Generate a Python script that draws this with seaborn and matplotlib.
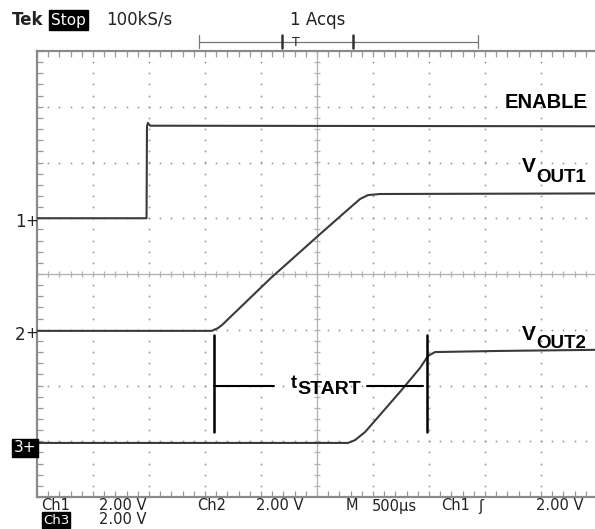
import numpy as np
import pandas as pd
import matplotlib.pyplot as plt
from matplotlib.lines import Line2D
import seaborn as sns

# ---- data (time in us, voltage in V) ----
enable_t = [0, 978, 982, 990, 1010, 5000]
enable_v = [0.0, 0.0, 3.30, 3.42, 3.32, 3.30]

vout1_t = [0, 1560, 1616, 1652, 2089, 2527, 2750, 2884, 2955, 3063, 5000]
vout1_v = [0.0, 0.0, 0.10, 0.21, 1.90, 3.47, 4.26, 4.73, 4.87, 4.91, 4.93]

vout2_t = [0, 2777, 2839, 2929, 3241, 3420, 3491, 3554, 4134, 5000]
vout2_v = [0.0, 0.0, 0.10, 0.39, 1.83, 2.69, 3.12, 3.26, 3.30, 3.34]

channels = ["Ch1", "Ch2", "Ch3"]
ch_position = [1.0, -1.02, -3.03]      # ground marker, in divisions
volts_per_div = [2.0, 2.0, 2.0]
time_per_div = 500                      # us/div

tstart_begin = 1580
tstart_end = 3480

frames = []
for ch, t, v, pos, vdiv in zip(channels, [enable_t, vout1_t, vout2_t],
                               [enable_v, vout1_v, vout2_v], ch_position, volts_per_div):
    frames.append(pd.DataFrame({"time_us": t, "div": np.array(v) / vdiv + pos, "channel": ch}))
df = pd.concat(frames, ignore_index=True)

sns.set_theme(style="white")
plt.rcParams["font.family"] = ["DejaVu Sans"]

W, H = 595, 529
fig = plt.figure(figsize=(W / 100, H / 100), dpi=100)
ax = fig.add_axes([37 / W, 1 - 497 / H, 560 / W, 446 / H])


def fx(x):
    return x / W


def fy(y):
    return 1 - y / H


grid_col = "#9a9a9a"
trace_col = "#3a3a3a"
txt_col = "#222222"

# graticule dots
for k in range(1, 10):
    if k == 5:
        continue
    ys = np.arange(-4, 4.01, 0.2)
    ax.scatter(np.full(len(ys), k * time_per_div), ys, s=1.8, color=grid_col, lw=0, zorder=1)
for k in range(-3, 4):
    if k == 0:
        continue
    xs = np.arange(0, 5001, time_per_div / 5)
    ax.scatter(xs, np.full(len(xs), k), s=1.8, color=grid_col, lw=0, zorder=1)

# center cross with ticks
ax.axhline(0, color="#b0b0b0", lw=0.9, zorder=1)
ax.axvline(2500, color="#b0b0b0", lw=0.9, zorder=1)
xs = np.arange(0, 5001, time_per_div / 5)
ax.plot(xs, np.zeros(len(xs)), ls="none", marker="|", ms=5, mew=0.9, color="#b0b0b0", zorder=1)
ys = np.arange(-4, 4.01, 0.2)
ax.plot(np.full(len(ys), 2500), ys, ls="none", marker="_", ms=5, mew=0.9, color="#b0b0b0", zorder=1)

# traces
sns.lineplot(data=df, x="time_us", y="div", hue="channel", units="channel",
             estimator=None, sort=False, palette=[trace_col] * 3,
             lw=1.5, legend=False, ax=ax, zorder=3)

ax.set_xlim(0, 5000)
ax.set_ylim(-4, 4)
ax.set_xlabel("")
ax.set_ylabel("")
ax.set_xticks(np.arange(0, 5001, time_per_div))
ax.set_xticks(np.arange(0, 5001, time_per_div / 5), minor=True)
ax.set_yticks(np.arange(-4, 4.01, 1))
ax.set_yticks(np.arange(-4, 4.01, 0.2), minor=True)
ax.tick_params(which="both", direction="in", length=4, width=0.9, color=grid_col,
               top=True, bottom=True, left=True, right=False,
               labelbottom=False, labelleft=False)
for side in ["left", "top", "bottom"]:
    ax.spines[side].set_color("#8a8a8a")
    ax.spines[side].set_linewidth(1.6)
ax.spines["right"].set_visible(False)

# t_START annotation
bar_col = "black"
ax.plot([tstart_begin, tstart_begin], [-1.09, -2.83], color=bar_col, lw=1.8, zorder=4)
ax.plot([tstart_end, tstart_end], [-1.09, -2.83], color=bar_col, lw=1.8, zorder=4)
ax.plot([tstart_begin, 2120], [-2.01, -2.01], color=bar_col, lw=1.5, zorder=4)
ax.plot([2950, tstart_end - 30], [-2.01, -2.01], color=bar_col, lw=1.5, zorder=4)

lab = dict(family=["Liberation Sans", "DejaVu Sans"], fontweight="bold", color="black")
fig.text(fx(291), fy(384), "t", fontsize=13, va="center", ha="left", **lab)
fig.text(fx(297), fy(390), "START", fontsize=14, va="center", ha="left", **lab)

fig.text(fx(588), fy(103), "ENABLE", fontsize=14.5, va="center", ha="right", **lab)
fig.text(fx(522), fy(167), "V", fontsize=15, va="center", ha="left", **lab)
fig.text(fx(536), fy(177), "OUT1", fontsize=13.5, va="center", ha="left", **lab)
fig.text(fx(522), fy(335), "V", fontsize=15, va="center", ha="left", **lab)
fig.text(fx(536), fy(344), "OUT2", fontsize=13.5, va="center", ha="left", **lab)

# channel ground markers
scope = dict(fontsize=12, color=txt_col)
fig.text(fx(15), fy(222), "1", va="center", ha="left", **scope)
fig.text(fx(25), fy(221), "+", va="center", ha="left", fontsize=11, color=txt_col)
fig.text(fx(15), fy(335), "2", va="center", ha="left", **scope)
fig.text(fx(25), fy(333), "+", va="center", ha="left", fontsize=11, color=txt_col)
fig.text(fx(14), fy(448), "3+", va="center", ha="left", fontsize=11, color="white",
         bbox=dict(boxstyle="square,pad=0.12", fc="black", ec="black"))

# header
fig.text(fx(12), fy(20), "Tek", va="center", ha="left", fontsize=12, fontweight="bold", color=txt_col)
fig.text(fx(51), fy(20), "Stop", va="center", ha="left", fontsize=11, color="white",
         bbox=dict(boxstyle="square,pad=0.15", fc="black", ec="black"))
fig.text(fx(106), fy(20), "100kS/s", va="center", ha="left", **scope)
fig.text(fx(290), fy(20), "1 Acqs", va="center", ha="left", **scope)

hdr = dict(transform=fig.transFigure, color="#777777")
fig.add_artist(Line2D([fx(199), fx(478)], [fy(42), fy(42)], lw=0.9, **hdr))
fig.add_artist(Line2D([fx(199), fx(199)], [fy(35), fy(48)], lw=0.9, **hdr))
fig.add_artist(Line2D([fx(478), fx(478)], [fy(35), fy(48)], lw=0.9, **hdr))
fig.add_artist(Line2D([fx(282), fx(282)], [fy(35), fy(48)], lw=1.8, transform=fig.transFigure, color="#333333"))
fig.add_artist(Line2D([fx(353), fx(353)], [fy(35), fy(48)], lw=1.8, transform=fig.transFigure, color="#333333"))
fig.text(fx(296), fy(42), "T", va="center", ha="center", fontsize=9, color=txt_col)

# footer
foot = dict(fontsize=10.5, color=txt_col, va="center", ha="left")
fig.text(fx(41), fy(506), "Ch1", **foot)
fig.text(fx(99), fy(506), "2.00 V", **foot)
fig.text(fx(197), fy(506), "Ch2", **foot)
fig.text(fx(256), fy(506), "2.00 V", **foot)
fig.text(fx(346), fy(506), "M", **foot)
fig.text(fx(372), fy(506), "500µs", **foot)
fig.text(fx(441), fy(506), "Ch1", **foot)
fig.text(fx(478), fy(506), "ʃ", **foot)
fig.text(fx(536), fy(506), "2.00 V", **foot)
fig.text(fx(43), fy(520), "Ch3", fontsize=9.5, color="white", va="center", ha="left",
         bbox=dict(boxstyle="square,pad=0.08", fc="black", ec="black"))
fig.text(fx(99), fy(520), "2.00 V", **foot)

fig.savefig("out.png", dpi=100)
